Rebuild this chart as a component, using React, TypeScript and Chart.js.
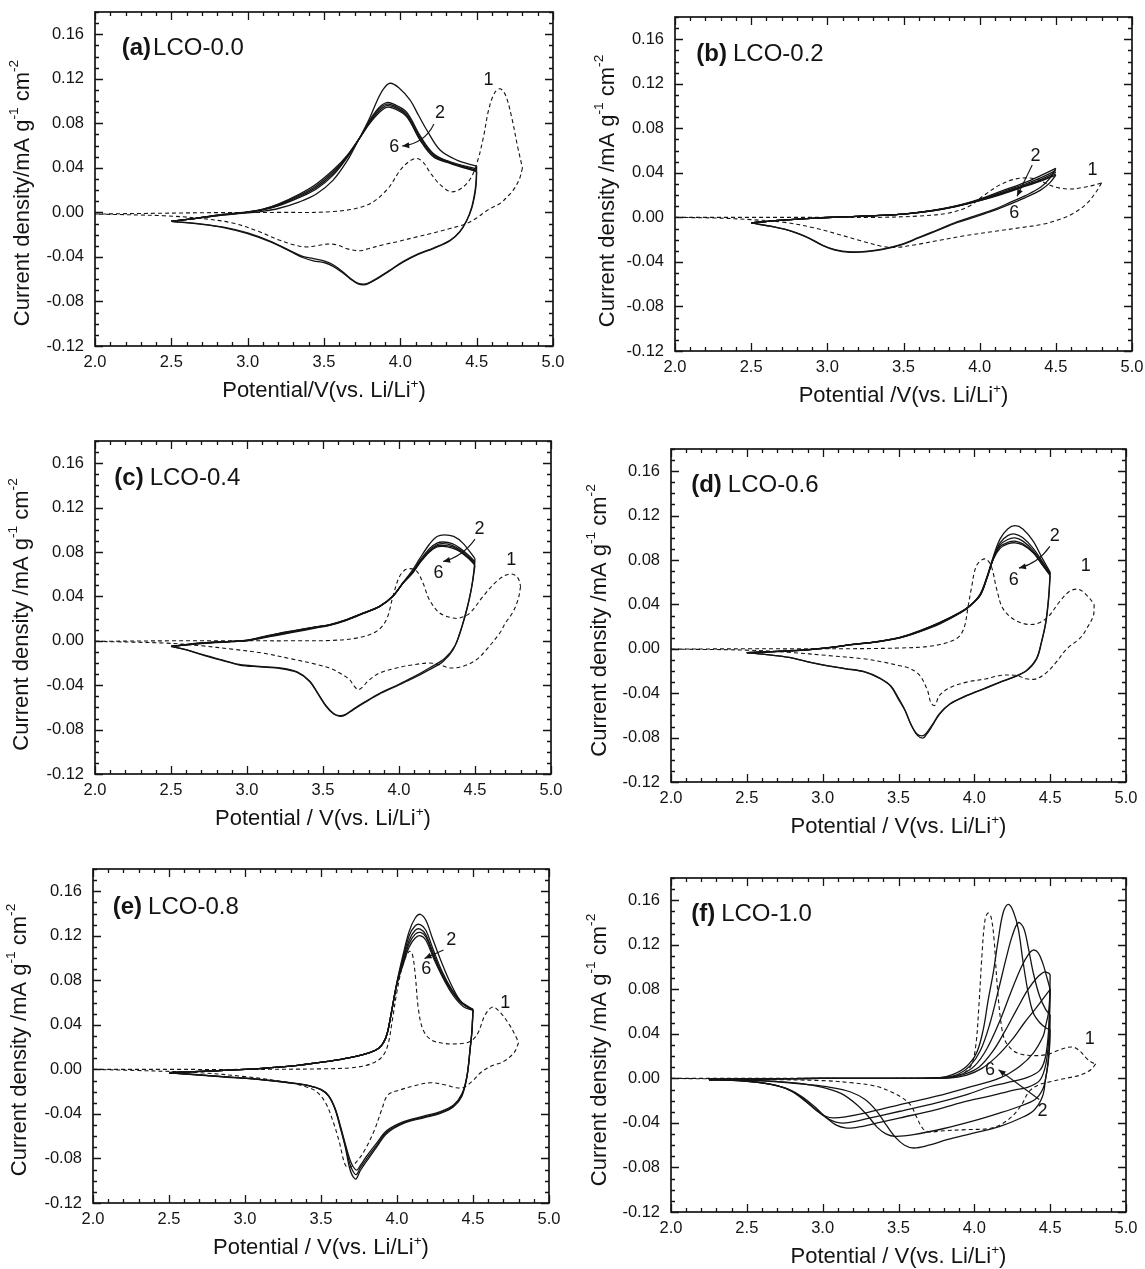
import React, { useEffect, useRef } from "react";
import { Chart, registerables } from "chart.js";
Chart.register(...registerables);

const FONT = '"Liberation Sans", Arial, Helvetica, sans-serif';
const INK = "#141414";

// ---------- axes ----------
const X_RANGE = [2.0, 5.0];
const Y_RANGE = [-0.12, 0.18];
const X_TICKS = [2.0, 2.5, 3.0, 3.5, 4.0, 4.5, 5.0];
const Y_TICKS = [-0.12, -0.08, -0.04, 0.0, 0.04, 0.08, 0.12, 0.16];

// ---------- (a) LCO-0.0 ----------
const a_c1_up = [[2.0,-0.0015],[2.4,-0.0008],[2.8,-0.0002],[3.2,0.0],[3.56,0.0008],[3.78,0.0065],[3.91,0.02],[4.0,0.038],[4.06,0.046],[4.107,0.0485],[4.15,0.045],[4.194,0.036],[4.26,0.025],[4.337,0.0185],[4.413,0.023],[4.47,0.033],[4.51,0.048],[4.545,0.068],[4.58,0.093],[4.62,0.108],[4.655,0.111],[4.69,0.105],[4.73,0.085],[4.77,0.058],[4.8,0.04]];
const a_c1_dn = [[4.8,0.04],[4.78,0.03],[4.74,0.02],[4.7,0.014],[4.653,0.008],[4.57,0.002],[4.5,-0.005],[4.435,-0.0099],[4.326,-0.0145],[4.2,-0.019],[4.107,-0.022],[3.99,-0.026],[3.888,-0.029],[3.78,-0.033],[3.73,-0.0345],[3.66,-0.033],[3.58,-0.029],[3.52,-0.0285],[3.45,-0.03],[3.38,-0.031],[3.3,-0.029],[3.2,-0.0245],[3.07,-0.017],[2.9,-0.0095],[2.7,-0.0055],[2.45,-0.003],[2.0,-0.0015]];
const a_an2 = [[2.5,-0.008],[2.65,-0.0055],[2.8,-0.003],[3.0,-0.0005],[3.1,0.001],[3.2,0.0035],[3.34,0.0095],[3.45,0.0165],[3.56,0.029],[3.65,0.046],[3.714,0.062],[3.76,0.074],[3.8,0.085],[3.85,0.101],[3.89,0.111],[3.932,0.116],[3.99,0.112],[4.063,0.101],[4.12,0.087],[4.173,0.074],[4.26,0.056],[4.37,0.047],[4.5,0.0415]];
const a_an3 = [[2.5,-0.008],[2.65,-0.0055],[2.8,-0.0028],[3.0,0.0],[3.1,0.0022],[3.2,0.0058],[3.34,0.0135],[3.45,0.021],[3.56,0.0335],[3.65,0.049],[3.746,0.0695],[3.8,0.083],[3.86,0.094],[3.91,0.0986],[3.96,0.097],[4.041,0.09],[4.129,0.069],[4.216,0.053],[4.326,0.0455],[4.5,0.039]];
const a_an4 = [[2.5,-0.008],[2.65,-0.0055],[2.8,-0.0027],[3.0,0.0002],[3.1,0.0025],[3.2,0.0064],[3.34,0.0145],[3.45,0.0225],[3.56,0.035],[3.65,0.0495],[3.746,0.0695],[3.8,0.082],[3.86,0.0925],[3.91,0.0972],[3.96,0.0957],[4.041,0.0885],[4.129,0.0675],[4.216,0.052],[4.326,0.045],[4.5,0.038]];
const a_an5 = [[2.5,-0.008],[2.65,-0.0055],[2.8,-0.0026],[3.0,0.0004],[3.1,0.0028],[3.2,0.007],[3.34,0.0155],[3.45,0.024],[3.56,0.0365],[3.65,0.05],[3.746,0.0695],[3.8,0.081],[3.86,0.091],[3.91,0.0958],[3.96,0.0945],[4.041,0.087],[4.129,0.066],[4.216,0.051],[4.326,0.0445],[4.5,0.037]];
const a_an6 = [[2.5,-0.008],[2.65,-0.0055],[2.8,-0.0025],[3.0,0.0005],[3.1,0.003],[3.2,0.0075],[3.34,0.0165],[3.45,0.0255],[3.56,0.038],[3.65,0.051],[3.746,0.0695],[3.8,0.08],[3.86,0.0895],[3.91,0.0944],[3.96,0.0932],[4.041,0.086],[4.129,0.065],[4.216,0.05],[4.326,0.044],[4.5,0.0365]];
const a_ca2 = [[4.5,0.0415],[4.497,0.03],[4.49,0.02],[4.468,0.005],[4.435,-0.007],[4.39,-0.017],[4.326,-0.025],[4.216,-0.032],[4.12,-0.037],[4.02,-0.044],[3.93,-0.052],[3.85,-0.059],[3.79,-0.0635],[3.76,-0.0645],[3.72,-0.0635],[3.67,-0.059],[3.62,-0.053],[3.56,-0.047],[3.5,-0.0435],[3.43,-0.0415],[3.36,-0.0395],[3.28,-0.0345],[3.15,-0.026],[3.0,-0.0185],[2.85,-0.0135],[2.7,-0.0105],[2.5,-0.008]];
const a_ca6 = [[4.5,0.0365],[4.497,0.026],[4.488,0.016],[4.466,0.003],[4.433,-0.008],[4.39,-0.0175],[4.326,-0.0255],[4.216,-0.0325],[4.12,-0.0375],[4.02,-0.0445],[3.93,-0.0525],[3.85,-0.0595],[3.79,-0.064],[3.76,-0.065],[3.72,-0.064],[3.67,-0.0595],[3.62,-0.054],[3.56,-0.0485],[3.5,-0.045],[3.43,-0.0435],[3.36,-0.0405],[3.28,-0.035],[3.15,-0.0265],[3.0,-0.019],[2.85,-0.0138],[2.7,-0.0107],[2.5,-0.008]];

// ---------- (b) LCO-0.2 ----------
const b_c1_up = [[2.0,0.0],[2.5,0.0],[3.0,0.0],[3.3,0.0],[3.6,0.0012],[3.8,0.004],[3.93,0.01],[4.03,0.02],[4.13,0.029],[4.22,0.034],[4.3,0.0355],[4.38,0.034],[4.45,0.0295],[4.52,0.0265],[4.6,0.0255],[4.68,0.027],[4.75,0.029],[4.8,0.031]];
const b_c1_dn = [[4.8,0.031],[4.76,0.022],[4.7,0.012],[4.62,0.004],[4.54,-0.001],[4.42,-0.006],[4.28,-0.009],[4.1,-0.0125],[3.9,-0.0165],[3.72,-0.021],[3.58,-0.0245],[3.45,-0.027],[3.36,-0.026],[3.22,-0.021],[3.08,-0.0155],[2.9,-0.009],[2.72,-0.0045],[2.5,-0.002],[2.25,-0.0005],[2.0,0.0]];
const b_an2 = [[2.5,-0.005],[2.7,-0.0025],[2.9,-0.0008],[3.1,0.0005],[3.3,0.0015],[3.5,0.003],[3.7,0.0065],[3.85,0.0105],[4.0,0.0165],[4.15,0.024],[4.3,0.0315],[4.4,0.0375],[4.5,0.044]];
const b_an3 = [[2.5,-0.005],[2.7,-0.0025],[2.9,-0.0008],[3.1,0.0005],[3.3,0.0015],[3.5,0.003],[3.7,0.0064],[3.85,0.0103],[4.0,0.016],[4.15,0.023],[4.3,0.03],[4.4,0.0355],[4.5,0.042]];
const b_an4 = [[2.5,-0.005],[2.7,-0.0025],[2.9,-0.0008],[3.1,0.0005],[3.3,0.0015],[3.5,0.003],[3.7,0.0063],[3.85,0.0101],[4.0,0.0155],[4.15,0.022],[4.3,0.029],[4.4,0.034],[4.5,0.0405]];
const b_an5 = [[2.5,-0.005],[2.7,-0.0025],[2.9,-0.0008],[3.1,0.0005],[3.3,0.0015],[3.5,0.003],[3.7,0.0062],[3.85,0.01],[4.0,0.015],[4.15,0.0215],[4.3,0.0285],[4.4,0.033],[4.5,0.039]];
const b_an6 = [[2.5,-0.005],[2.7,-0.0025],[2.9,-0.0008],[3.1,0.0005],[3.3,0.0015],[3.5,0.003],[3.7,0.0062],[3.85,0.0099],[4.0,0.015],[4.15,0.021],[4.3,0.028],[4.4,0.0325],[4.5,0.038]];
const b_ca2 = [[4.5,0.044],[4.46,0.035],[4.4,0.027],[4.3,0.0195],[4.2,0.0135],[4.1,0.0075],[3.96,0.001],[3.85,-0.004],[3.72,-0.0115],[3.6,-0.018],[3.48,-0.0245],[3.36,-0.0285],[3.25,-0.0305],[3.15,-0.031],[3.05,-0.029],[2.97,-0.025],[2.88,-0.0185],[2.77,-0.0125],[2.65,-0.0085],[2.5,-0.005]];
const b_ca6 = [[4.5,0.038],[4.46,0.031],[4.4,0.0245],[4.3,0.0178],[4.2,0.012],[4.1,0.0065],[3.96,0.0],[3.85,-0.0048],[3.72,-0.012],[3.6,-0.0185],[3.48,-0.025],[3.36,-0.029],[3.25,-0.031],[3.15,-0.0313],[3.05,-0.0293],[2.97,-0.0253],[2.88,-0.0188],[2.77,-0.0127],[2.65,-0.0086],[2.5,-0.005]];

// ---------- (c) LCO-0.4 ----------
const c_c1_up = [[2.0,-0.0005],[2.5,0.0],[3.0,0.0],[3.3,0.0],[3.544,0.0003],[3.72,0.0024],[3.85,0.0084],[3.917,0.019],[3.96,0.04],[4.0,0.057],[4.04,0.064],[4.07,0.065],[4.115,0.063],[4.158,0.052],[4.2,0.037],[4.268,0.025],[4.356,0.0205],[4.4,0.0205],[4.466,0.025],[4.553,0.04],[4.63,0.052],[4.7,0.059],[4.75,0.06],[4.785,0.056],[4.8,0.049]];
const c_c1_dn = [[4.8,0.049],[4.785,0.038],[4.75,0.026],[4.7,0.016],[4.663,0.007],[4.575,-0.008],[4.51,-0.017],[4.42,-0.023],[4.334,-0.0245],[4.268,-0.0216],[4.2,-0.02],[4.093,-0.0216],[3.983,-0.0245],[3.873,-0.029],[3.807,-0.035],[3.752,-0.0426],[3.73,-0.044],[3.7,-0.04],[3.675,-0.035],[3.61,-0.029],[3.544,-0.0246],[3.45,-0.021],[3.3,-0.0165],[3.1,-0.011],[2.9,-0.0075],[2.7,-0.0045],[2.45,-0.002],[2.0,-0.0005]];
const c_an2 = [[2.5,-0.005],[2.7,-0.0025],[2.9,-0.0008],[3.0,0.0],[3.1,0.0025],[3.2,0.005],[3.3,0.0075],[3.45,0.0115],[3.544,0.014],[3.654,0.0185],[3.763,0.0245],[3.873,0.031],[3.96,0.0405],[4.03,0.053],[4.09,0.064],[4.136,0.074],[4.2,0.087],[4.25,0.094],[4.3,0.0955],[4.36,0.094],[4.42,0.088],[4.5,0.074]];
const c_an3 = [[2.5,-0.005],[2.7,-0.0023],[2.9,-0.0007],[3.0,0.0002],[3.1,0.0028],[3.2,0.0055],[3.3,0.008],[3.45,0.012],[3.544,0.0142],[3.654,0.0187],[3.763,0.0247],[3.873,0.031],[3.96,0.0403],[4.028,0.0525],[4.09,0.0625],[4.136,0.072],[4.2,0.083],[4.25,0.088],[4.29,0.089],[4.35,0.0875],[4.4,0.0835],[4.466,0.076],[4.5,0.071]];
const c_an4 = [[2.5,-0.005],[2.7,-0.0022],[2.9,-0.0006],[3.0,0.0003],[3.1,0.003],[3.2,0.006],[3.3,0.0085],[3.45,0.0122],[3.544,0.0143],[3.654,0.0188],[3.763,0.0248],[3.873,0.031],[3.96,0.0402],[4.027,0.0522],[4.09,0.062],[4.136,0.071],[4.2,0.0815],[4.25,0.0865],[4.29,0.0875],[4.35,0.086],[4.4,0.082],[4.466,0.0745],[4.5,0.0695]];
const c_an5 = [[2.5,-0.005],[2.7,-0.0021],[2.9,-0.0005],[3.0,0.0004],[3.1,0.0033],[3.2,0.0063],[3.3,0.0088],[3.45,0.0124],[3.544,0.0144],[3.654,0.0189],[3.763,0.0249],[3.873,0.031],[3.96,0.0401],[4.027,0.0521],[4.09,0.0615],[4.136,0.0705],[4.2,0.0805],[4.25,0.0855],[4.29,0.086],[4.35,0.0848],[4.4,0.081],[4.466,0.0738],[4.5,0.0688]];
const c_an6 = [[2.5,-0.005],[2.7,-0.002],[2.9,-0.0005],[3.0,0.0005],[3.1,0.0035],[3.2,0.0065],[3.3,0.009],[3.45,0.0125],[3.544,0.0145],[3.654,0.019],[3.763,0.025],[3.873,0.031],[3.96,0.04],[4.027,0.052],[4.09,0.061],[4.136,0.07],[4.2,0.08],[4.25,0.0845],[4.29,0.085],[4.35,0.0835],[4.4,0.0805],[4.466,0.073],[4.5,0.068]];
const c_ca2 = [[4.5,0.074],[4.49,0.06],[4.475,0.046],[4.45,0.03],[4.415,0.013],[4.37,-0.004],[4.3,-0.016],[4.2,-0.0245],[4.09,-0.033],[3.98,-0.0405],[3.87,-0.0475],[3.77,-0.0555],[3.7,-0.0615],[3.645,-0.0665],[3.61,-0.0675],[3.57,-0.0655],[3.52,-0.0585],[3.47,-0.048],[3.41,-0.036],[3.33,-0.028],[3.22,-0.0245],[3.08,-0.023],[2.95,-0.0213],[2.83,-0.017],[2.71,-0.0125],[2.6,-0.008],[2.5,-0.005]];
const c_ca6 = [[4.5,0.068],[4.483,0.052],[4.461,0.037],[4.433,0.022],[4.4,0.007],[4.356,-0.008],[4.29,-0.0186],[4.2,-0.026],[4.09,-0.034],[3.98,-0.041],[3.87,-0.048],[3.77,-0.056],[3.7,-0.062],[3.645,-0.067],[3.61,-0.068],[3.57,-0.066],[3.52,-0.059],[3.47,-0.0485],[3.41,-0.0365],[3.33,-0.0285],[3.22,-0.025],[3.08,-0.0235],[2.95,-0.0218],[2.83,-0.0175],[2.71,-0.0128],[2.6,-0.0082],[2.5,-0.005]];

// ---------- (d) LCO-0.6 ----------
const d_c1_up = [[2.0,-0.0003],[2.5,0.0],[3.0,0.0],[3.5,0.0007],[3.73,0.0028],[3.88,0.009],[3.93,0.018],[3.96,0.039],[3.98,0.054],[4.015,0.075],[4.07,0.081],[4.11,0.075],[4.147,0.054],[4.19,0.036],[4.28,0.025],[4.39,0.022],[4.48,0.028],[4.56,0.042],[4.63,0.052],[4.69,0.0535],[4.75,0.047],[4.79,0.04]];
const d_c1_dn = [[4.79,0.04],[4.785,0.03],[4.74,0.018],[4.7,0.01],[4.61,0.0],[4.54,-0.012],[4.48,-0.021],[4.41,-0.027],[4.34,-0.027],[4.28,-0.024],[4.17,-0.024],[4.08,-0.027],[3.95,-0.03],[3.84,-0.035],[3.77,-0.042],[3.74,-0.051],[3.715,-0.049],[3.69,-0.037],[3.64,-0.024],[3.58,-0.018],[3.5,-0.015],[3.4,-0.012],[3.27,-0.009],[3.03,-0.006],[2.79,-0.0033],[2.5,-0.0012],[2.0,-0.0003]];
const d_an2 = [[2.5,-0.0035],[2.7,-0.0025],[2.9,-0.001],[3.05,0.001],[3.2,0.0038],[3.35,0.006],[3.51,0.0098],[3.642,0.0155],[3.773,0.0225],[3.905,0.032],[3.971,0.0385],[4.037,0.049],[4.081,0.064],[4.125,0.083],[4.17,0.099],[4.22,0.108],[4.268,0.111],[4.32,0.108],[4.388,0.097],[4.45,0.081],[4.5,0.069]];
const d_an3 = [[2.5,-0.0035],[2.7,-0.0024],[2.9,-0.0009],[3.05,0.0011],[3.2,0.0039],[3.35,0.0061],[3.51,0.01],[3.642,0.0158],[3.773,0.023],[3.905,0.0323],[3.971,0.0386],[4.037,0.0483],[4.081,0.0632],[4.125,0.0815],[4.17,0.0955],[4.22,0.102],[4.268,0.1034],[4.32,0.1],[4.388,0.0905],[4.454,0.0775],[4.5,0.068]];
const d_an4 = [[2.5,-0.0035],[2.7,-0.0024],[2.9,-0.0009],[3.05,0.0011],[3.2,0.0039],[3.35,0.0062],[3.51,0.0101],[3.642,0.016],[3.773,0.0233],[3.905,0.0325],[3.971,0.0387],[4.037,0.048],[4.081,0.063],[4.125,0.081],[4.17,0.0935],[4.22,0.0985],[4.268,0.0999],[4.32,0.097],[4.388,0.0885],[4.454,0.076],[4.5,0.0672]];
const d_an5 = [[2.5,-0.0035],[2.7,-0.0023],[2.9,-0.0008],[3.05,0.0012],[3.2,0.004],[3.35,0.0063],[3.51,0.0102],[3.642,0.0162],[3.773,0.0236],[3.905,0.0327],[3.971,0.0388],[4.037,0.0479],[4.081,0.0629],[4.125,0.0809],[4.17,0.092],[4.22,0.0958],[4.268,0.0969],[4.32,0.0945],[4.388,0.087],[4.454,0.075],[4.5,0.0665]];
const d_an6 = [[2.5,-0.0035],[2.7,-0.0023],[2.9,-0.0008],[3.05,0.0012],[3.2,0.004],[3.35,0.0063],[3.51,0.0103],[3.642,0.0163],[3.773,0.0238],[3.905,0.0328],[3.971,0.0388],[4.037,0.0478],[4.081,0.0628],[4.125,0.0809],[4.17,0.0905],[4.22,0.0945],[4.268,0.0955],[4.32,0.0935],[4.388,0.0865],[4.454,0.0745],[4.5,0.066]];
const d_ca2 = [[4.5,0.069],[4.49,0.047],[4.472,0.025],[4.443,0.0065],[4.41,-0.0088],[4.344,-0.0195],[4.257,-0.0255],[4.169,-0.03],[4.06,-0.036],[3.95,-0.042],[3.84,-0.0495],[3.77,-0.0585],[3.72,-0.069],[3.68,-0.0765],[3.655,-0.0785],[3.62,-0.0765],[3.58,-0.0675],[3.54,-0.0545],[3.5,-0.0445],[3.45,-0.0335],[3.38,-0.0265],[3.28,-0.0208],[3.15,-0.0178],[3.03,-0.0152],[2.9,-0.0116],[2.78,-0.0078],[2.65,-0.0055],[2.5,-0.0035]];
const d_ca6 = [[4.5,0.066],[4.49,0.045],[4.472,0.024],[4.443,0.0058],[4.41,-0.0093],[4.344,-0.0198],[4.257,-0.0258],[4.169,-0.0303],[4.06,-0.0363],[3.95,-0.0423],[3.84,-0.0498],[3.77,-0.059],[3.72,-0.07],[3.68,-0.078],[3.66,-0.0805],[3.625,-0.078],[3.585,-0.069],[3.545,-0.056],[3.5,-0.0455],[3.45,-0.034],[3.38,-0.027],[3.28,-0.021],[3.15,-0.018],[3.03,-0.0153],[2.9,-0.0117],[2.78,-0.0078],[2.65,-0.0055],[2.5,-0.0035]];

// ---------- (e) LCO-0.8 ----------
const e_c1_up = [[2.0,0.0],[2.5,0.0],[3.0,0.0],[3.5,0.0005],[3.7,0.0015],[3.82,0.0045],[3.9,0.011],[3.94,0.022],[3.97,0.045],[4.0,0.07],[4.04,0.095],[4.08,0.106],[4.1,0.104],[4.12,0.085],[4.14,0.055],[4.17,0.036],[4.22,0.027],[4.3,0.0235],[4.4,0.023],[4.48,0.025],[4.53,0.032],[4.58,0.049],[4.63,0.056],[4.68,0.051],[4.74,0.04],[4.78,0.03],[4.8,0.024]];
const e_c1_dn = [[4.8,0.024],[4.77,0.015],[4.7,0.007],[4.62,0.003],[4.55,-0.003],[4.5,-0.01],[4.44,-0.016],[4.39,-0.0165],[4.32,-0.014],[4.22,-0.012],[4.12,-0.0145],[4.02,-0.0185],[3.94,-0.023],[3.9,-0.036],[3.85,-0.055],[3.79,-0.072],[3.74,-0.082],[3.69,-0.088],[3.66,-0.086],[3.62,-0.065],[3.58,-0.047],[3.53,-0.03],[3.47,-0.02],[3.4,-0.0155],[3.25,-0.011],[3.0,-0.0065],[2.7,-0.003],[2.3,-0.001],[2.0,0.0]];
const e_an2 = [[2.5,-0.003],[2.75,-0.0015],[3.0,0.0],[3.3,0.003],[3.56,0.0075],[3.69,0.0105],[3.82,0.015],[3.88,0.019],[3.911,0.024],[3.935,0.032],[3.955,0.045],[3.999,0.078],[4.04,0.103],[4.08,0.124],[4.12,0.136],[4.153,0.1393],[4.19,0.134],[4.23,0.119],[4.285,0.099],[4.34,0.081],[4.4,0.065],[4.45,0.057],[4.5,0.054]];
const e_an3 = [[2.5,-0.003],[2.75,-0.0015],[3.0,0.0],[3.3,0.003],[3.56,0.0075],[3.69,0.0105],[3.82,0.015],[3.88,0.019],[3.911,0.024],[3.935,0.032],[3.955,0.045],[3.999,0.0775],[4.04,0.1],[4.08,0.12],[4.12,0.129],[4.153,0.13],[4.19,0.125],[4.24,0.107],[4.3,0.087],[4.36,0.072],[4.42,0.061],[4.5,0.0538]];
const e_an4 = [[2.5,-0.003],[2.75,-0.0015],[3.0,0.0],[3.3,0.003],[3.56,0.0075],[3.69,0.0105],[3.82,0.015],[3.88,0.019],[3.911,0.024],[3.935,0.032],[3.955,0.045],[3.999,0.077],[4.04,0.098],[4.08,0.116],[4.12,0.125],[4.153,0.126],[4.19,0.121],[4.24,0.104],[4.3,0.085],[4.36,0.071],[4.42,0.0605],[4.5,0.0535]];
const e_an5 = [[2.5,-0.003],[2.75,-0.0015],[3.0,0.0],[3.3,0.003],[3.56,0.0075],[3.69,0.0105],[3.82,0.015],[3.88,0.019],[3.911,0.024],[3.935,0.032],[3.955,0.045],[3.999,0.0765],[4.04,0.096],[4.08,0.113],[4.12,0.1215],[4.155,0.123],[4.19,0.119],[4.24,0.102],[4.3,0.084],[4.36,0.0705],[4.42,0.06],[4.5,0.0532]];
const e_an6 = [[2.5,-0.003],[2.75,-0.0015],[3.0,0.0],[3.3,0.003],[3.56,0.0075],[3.69,0.0105],[3.82,0.015],[3.88,0.019],[3.911,0.024],[3.935,0.032],[3.955,0.045],[3.999,0.076],[4.04,0.094],[4.08,0.11],[4.12,0.118],[4.155,0.12],[4.19,0.116],[4.24,0.1],[4.307,0.081],[4.372,0.066],[4.44,0.056],[4.5,0.053]];
const e_ca2 = [[4.5,0.054],[4.493,0.035],[4.482,0.02],[4.46,-0.006],[4.427,-0.022],[4.372,-0.032],[4.285,-0.038],[4.175,-0.042],[4.043,-0.047],[3.933,-0.055],[3.867,-0.066],[3.8,-0.078],[3.76,-0.086],[3.735,-0.0905],[3.71,-0.087],[3.69,-0.081],[3.66,-0.067],[3.626,-0.05],[3.593,-0.035],[3.55,-0.0235],[3.5,-0.018],[3.42,-0.0145],[3.3,-0.012],[3.1,-0.009],[2.85,-0.0065],[2.5,-0.003]];
const e_ca4 = [[4.5,0.0535],[4.493,0.0345],[4.482,0.0195],[4.46,-0.0065],[4.427,-0.023],[4.372,-0.0328],[4.285,-0.0388],[4.175,-0.0428],[4.043,-0.0478],[3.933,-0.0563],[3.867,-0.068],[3.8,-0.0803],[3.758,-0.0885],[3.732,-0.0945],[3.708,-0.091],[3.688,-0.084],[3.66,-0.0685],[3.626,-0.051],[3.593,-0.0355],[3.55,-0.0238],[3.5,-0.0182],[3.42,-0.0146],[3.3,-0.0121],[3.1,-0.0091],[2.85,-0.0065],[2.5,-0.003]];
const e_ca6 = [[4.5,0.053],[4.493,0.034],[4.482,0.019],[4.46,-0.007],[4.427,-0.024],[4.372,-0.0335],[4.285,-0.0395],[4.175,-0.0435],[4.043,-0.0485],[3.933,-0.0575],[3.867,-0.0695],[3.8,-0.0825],[3.758,-0.091],[3.73,-0.0985],[3.705,-0.095],[3.685,-0.087],[3.66,-0.07],[3.626,-0.052],[3.593,-0.036],[3.55,-0.024],[3.5,-0.0183],[3.42,-0.0147],[3.3,-0.0122],[3.1,-0.0092],[2.85,-0.0066],[2.5,-0.003]];

// ---------- (f) LCO-1.0 ----------
const f_c1_up = [[2.0,0.0],[2.5,0.0],[3.0,0.0],[3.5,0.0],[3.8,0.0008],[3.92,0.004],[3.98,0.012],[4.01,0.03],[4.03,0.065],[4.05,0.11],[4.07,0.142],[4.09,0.1485],[4.11,0.145],[4.13,0.125],[4.15,0.085],[4.18,0.046],[4.21,0.032],[4.28,0.023],[4.39,0.0205],[4.48,0.0215],[4.55,0.025],[4.62,0.028],[4.66,0.0278],[4.7,0.024],[4.74,0.018],[4.78,0.014],[4.8,0.013]];
const f_c1_dn = [[4.8,0.013],[4.77,0.008],[4.7,0.003],[4.6,0.0],[4.5,-0.003],[4.42,-0.006],[4.36,-0.012],[4.31,-0.024],[4.25,-0.034],[4.18,-0.041],[4.1,-0.045],[3.95,-0.046],[3.8,-0.047],[3.7,-0.048],[3.66,-0.045],[3.62,-0.035],[3.58,-0.024],[3.52,-0.017],[3.45,-0.012],[3.35,-0.007],[3.2,-0.004],[3.0,-0.002],[2.6,-0.001],[2.0,0.0]];
const f_an2 = [[2.25,-0.001],[2.6,-0.0005],[3.0,0.0],[3.5,0.0],[3.77,0.0006],[3.86,0.0036],[3.95,0.011],[4.015,0.023],[4.059,0.044],[4.092,0.071],[4.125,0.095],[4.158,0.125],[4.19,0.1488],[4.224,0.1563],[4.257,0.15],[4.29,0.134],[4.322,0.104],[4.355,0.077],[4.388,0.059],[4.432,0.05],[4.476,0.045],[4.5,0.044]];
const f_an3 = [[2.25,-0.001],[2.6,-0.0005],[3.0,0.0],[3.5,0.0],[3.79,0.0006],[3.89,0.0035],[3.97,0.011],[4.04,0.025],[4.1,0.048],[4.16,0.08],[4.21,0.108],[4.25,0.128],[4.29,0.1399],[4.325,0.135],[4.355,0.118],[4.39,0.094],[4.43,0.074],[4.47,0.062],[4.5,0.057]];
const f_an4 = [[2.25,-0.001],[2.6,-0.0005],[3.0,0.0],[3.5,0.0],[3.81,0.0006],[3.91,0.0035],[4.0,0.011],[4.08,0.026],[4.16,0.049],[4.24,0.077],[4.31,0.1],[4.36,0.112],[4.388,0.1153],[4.42,0.113],[4.45,0.104],[4.48,0.09],[4.5,0.08]];
const f_an5 = [[2.25,-0.001],[2.6,-0.0005],[3.0,0.0],[3.5,0.0],[3.83,0.0006],[3.93,0.0035],[4.03,0.01],[4.12,0.024],[4.2,0.042],[4.28,0.062],[4.35,0.079],[4.41,0.09],[4.46,0.0955],[4.49,0.0945],[4.5,0.093]];
const f_an6 = [[2.25,-0.001],[2.6,-0.0005],[3.0,0.0],[3.5,0.0],[3.85,0.0006],[3.95,0.003],[4.05,0.009],[4.15,0.02],[4.25,0.035],[4.33,0.05],[4.4,0.062],[4.45,0.071],[4.5,0.08]];
const f_ca2 = [[4.5,0.044],[4.497,0.03],[4.487,0.014],[4.47,0.0],[4.45,-0.016],[4.39,-0.029],[4.3,-0.036],[4.17,-0.043],[4.0,-0.049],[3.82,-0.055],[3.7,-0.06],[3.6,-0.0625],[3.54,-0.06],[3.48,-0.053],[3.42,-0.042],[3.36,-0.03],[3.28,-0.019],[3.18,-0.012],[3.05,-0.008],[2.9,-0.0055],[2.7,-0.003],[2.45,-0.0015],[2.25,-0.001]];
const f_ca3 = [[4.5,0.057],[4.497,0.038],[4.488,0.018],[4.473,0.002],[4.45,-0.01],[4.4,-0.019],[4.3,-0.025],[4.17,-0.031],[4.0,-0.038],[3.8,-0.045],[3.6,-0.0505],[3.48,-0.052],[3.42,-0.05],[3.36,-0.044],[3.3,-0.034],[3.22,-0.023],[3.12,-0.0135],[3.0,-0.008],[2.85,-0.0045],[2.6,-0.002],[2.25,-0.001]];
const f_ca4 = [[4.5,0.08],[4.495,0.05],[4.485,0.026],[4.465,0.009],[4.43,-0.002],[4.35,-0.008],[4.26,-0.0105],[4.1,-0.016],[3.95,-0.0205],[3.75,-0.028],[3.51,-0.0355],[3.3,-0.042],[3.2,-0.0445],[3.15,-0.0445],[3.09,-0.042],[3.03,-0.036],[2.96,-0.027],[2.88,-0.018],[2.78,-0.01],[2.62,-0.0045],[2.4,-0.0018],[2.25,-0.001]];
const f_ca5 = [[4.5,0.093],[4.495,0.06],[4.485,0.035],[4.465,0.017],[4.43,0.007],[4.35,0.001],[4.21,-0.004],[4.1,-0.0075],[3.95,-0.0145],[3.75,-0.022],[3.51,-0.0295],[3.3,-0.036],[3.18,-0.0395],[3.114,-0.04],[3.06,-0.038],[3.0,-0.033],[2.93,-0.025],[2.85,-0.016],[2.75,-0.0085],[2.6,-0.004],[2.4,-0.0016],[2.25,-0.001]];
const f_ca6 = [[4.5,0.08],[4.49,0.06],[4.47,0.047],[4.454,0.038],[4.39,0.023],[4.3,0.011],[4.17,0.0005],[3.95,-0.0085],[3.75,-0.016],[3.51,-0.0235],[3.3,-0.0305],[3.15,-0.0345],[3.07,-0.0355],[3.02,-0.034],[2.96,-0.029],[2.89,-0.021],[2.8,-0.012],[2.7,-0.0065],[2.55,-0.003],[2.4,-0.0015],[2.25,-0.001]];

// ---------- panel descriptions ----------
type Curve = { pts: number[][]; dash?: boolean };
type Note = { t: string; x: number; y: number };
type Arrow = { from: number[]; ctrl?: number[]; to: number[] };
type Panel = {
  tag: string; name: string; gap: number; lab: number[];
  rect: number[]; yDx: number; yDy: number;
  xTitle: string; yTitle: string;
  curves: Curve[]; notes: Note[]; arrow: Arrow;
};

const solid = (...arrs: number[][][]): Curve[] => arrs.map((pts) => ({ pts }));
const dashed = (...arrs: number[][][]): Curve[] => arrs.map((pts) => ({ pts, dash: true }));

const PANELS: Panel[] = [
  {
    tag: "(a)", name: "LCO-0.0", gap: 2, lab: [2.175, 0.1415], rect: [95, 12, 553, 346], yDx: -72, yDy: 14,
    xTitle: "Potential/V(vs. Li/Li", yTitle: "Current density/mA g",
    curves: [...dashed(a_c1_up, a_c1_dn), ...solid(a_an2, a_an3, a_an4, a_an5, a_an6, a_ca2, a_ca6)],
    notes: [{ t: "1", x: 4.577, y: 0.119 }, { t: "2", x: 4.26, y: 0.0896 }, { t: "6", x: 3.96, y: 0.0585 }],
    arrow: { from: [4.22, 0.0794], ctrl: [4.16, 0.062], to: [4.012, 0.0596] },
  },
  {
    tag: "(b)", name: "LCO-0.2", gap: 6, lab: [2.14, 0.1406], rect: [675, 17, 1132, 351], yDx: -67, yDy: 7,
    xTitle: "Potential /V(vs. Li/Li", yTitle: "Current density /mA g",
    curves: [...dashed(b_c1_up, b_c1_dn), ...solid(b_an2, b_an3, b_an4, b_an5, b_an6, b_ca2, b_ca6)],
    notes: [{ t: "2", x: 4.367, y: 0.0547 }, { t: "1", x: 4.74, y: 0.0428 }, { t: "6", x: 4.227, y: 0.0039 }],
    arrow: { from: [4.345, 0.047], to: [4.245, 0.019] },
  },
  {
    tag: "(c)", name: "LCO-0.4", gap: 6, lab: [2.127, 0.14], rect: [95, 441, 551, 774], yDx: -73, yDy: 7,
    xTitle: "Potential / V(vs. Li/Li", yTitle: "Current density /mA g",
    curves: [...dashed(c_c1_up, c_c1_dn), ...solid(c_an2, c_an3, c_an4, c_an5, c_an6, c_ca2, c_ca6)],
    notes: [{ t: "2", x: 4.53, y: 0.1006 }, { t: "6", x: 4.26, y: 0.061 }, { t: "1", x: 4.739, y: 0.073 }],
    arrow: { from: [4.5, 0.0916], ctrl: [4.42, 0.076], to: [4.29, 0.0714] },
  },
  {
    tag: "(d)", name: "LCO-0.6", gap: 6, lab: [2.133, 0.1415], rect: [671, 449, 1126, 782], yDx: -71, yDy: 5,
    xTitle: "Potential / V(vs. Li/Li", yTitle: "Current density /mA g",
    curves: [...dashed(d_c1_up, d_c1_dn), ...solid(d_an2, d_an3, d_an4, d_an5, d_an6, d_ca2, d_ca6)],
    notes: [{ t: "2", x: 4.53, y: 0.1012 }, { t: "6", x: 4.26, y: 0.062 }, { t: "1", x: 4.734, y: 0.0748 }],
    arrow: { from: [4.498, 0.0923], ctrl: [4.42, 0.077], to: [4.294, 0.0727] },
  },
  {
    tag: "(e)", name: "LCO-0.8", gap: 6, lab: [2.13, 0.14], rect: [93, 869, 549, 1203], yDx: -73, yDy: 4,
    xTitle: "Potential / V(vs. Li/Li", yTitle: "Current density /mA g",
    curves: [...dashed(e_c1_up, e_c1_dn), ...solid(e_an2, e_an3, e_an4, e_an5, e_an6, e_ca2, e_ca4, e_ca6)],
    notes: [{ t: "2", x: 4.357, y: 0.1162 }, { t: "6", x: 4.192, y: 0.0898 }, { t: "1", x: 4.713, y: 0.0599 }],
    arrow: { from: [4.306, 0.1072], to: [4.181, 0.0997] },
  },
  {
    tag: "(f)", name: "LCO-1.0", gap: 6, lab: [2.133, 0.141], rect: [671, 878, 1126, 1212], yDx: -71, yDy: 5,
    xTitle: "Potential / V(vs. Li/Li", yTitle: "Current density /mA g",
    curves: [...dashed(f_c1_up, f_c1_dn), ...solid(f_an2, f_an3, f_an4, f_an5, f_an6, f_ca2, f_ca3, f_ca4, f_ca5, f_ca6)],
    notes: [{ t: "1", x: 4.761, y: 0.035 }, { t: "6", x: 4.103, y: 0.0075 }, { t: "2", x: 4.449, y: -0.0295 }],
    arrow: { from: [4.428, -0.0189], to: [4.16, 0.0078] },
  },
];

const PADL = 95, PADT = 12, PADR = 13, PADB = 60;
const TICK_FONT = 16.5, TITLE_FONT = 22, LABEL_FONT = 24, NOTE_FONT = 18;

type Seg = { t: string; sup?: boolean };
function drawRich(ctx: CanvasRenderingContext2D, segs: Seg[], size: number) {
  const sup = size * 0.62;
  const widths = segs.map((s) => {
    ctx.font = `${s.sup ? sup : size}px ${FONT}`;
    return ctx.measureText(s.t).width;
  });
  const total = widths.reduce((a, b) => a + b, 0);
  let x = -total / 2;
  segs.forEach((s, i) => {
    ctx.font = `${s.sup ? sup : size}px ${FONT}`;
    ctx.fillText(s.t, x, s.sup ? -size * 0.42 : 0);
    x += widths[i];
  });
}

function makeDecor(p: Panel) {
  return {
    id: "decor",
    afterDraw(chart: any) {
      const ctx: CanvasRenderingContext2D = chart.ctx;
      const a = chart.chartArea;
      const xs = chart.scales.x, ys = chart.scales.y;
      const X = (v: number) => xs.getPixelForValue(v);
      const Y = (v: number) => ys.getPixelForValue(v);
      ctx.save();
      ctx.strokeStyle = INK;
      ctx.fillStyle = INK;
      // ticks (inward, on all four sides)
      ctx.lineWidth = 1.3;
      ctx.beginPath();
      for (let i = 0; i <= 30; i++) {
        const px = Math.round(X(X_RANGE[0] + i * 0.1)) + 0.5;
        const len = i % 5 === 0 ? 8 : 4;
        ctx.moveTo(px, a.bottom); ctx.lineTo(px, a.bottom - len);
        ctx.moveTo(px, a.top); ctx.lineTo(px, a.top + len);
      }
      for (let i = 0; i <= 30; i++) {
        const py = Math.round(Y(Y_RANGE[0] + i * 0.01)) + 0.5;
        const len = i % 4 === 0 ? 8 : 4;
        ctx.moveTo(a.left, py); ctx.lineTo(a.left + len, py);
        ctx.moveTo(a.right, py); ctx.lineTo(a.right - len, py);
      }
      ctx.stroke();
      // frame
      ctx.lineWidth = 1.7;
      ctx.strokeRect(a.left, a.top, a.right - a.left, a.bottom - a.top);

      // x title
      ctx.textAlign = "left";
      ctx.textBaseline = "alphabetic";
      ctx.save();
      ctx.translate((a.left + a.right) / 2, a.bottom + 51);
      drawRich(ctx, [{ t: p.xTitle }, { t: "+", sup: true }, { t: ")" }], TITLE_FONT);
      ctx.restore();
      // y title
      ctx.save();
      ctx.translate(a.left + p.yDx, (a.top + a.bottom) / 2 + p.yDy);
      ctx.rotate(-Math.PI / 2);
      ctx.textBaseline = "middle";
      drawRich(ctx, [{ t: p.yTitle }, { t: "-1", sup: true }, { t: " cm" }, { t: "-2", sup: true }], TITLE_FONT);
      ctx.restore();

      // panel label
      ctx.textBaseline = "alphabetic";
      ctx.textAlign = "left";
      const lx = X(p.lab[0]), ly = Y(p.lab[1]);
      ctx.font = `bold ${LABEL_FONT}px ${FONT}`;
      ctx.fillText(p.tag, lx, ly);
      const tw = ctx.measureText(p.tag).width;
      ctx.font = `${LABEL_FONT}px ${FONT}`;
      ctx.fillText(p.name, lx + tw + p.gap, ly);

      // cycle numbers
      ctx.font = `${NOTE_FONT}px ${FONT}`;
      ctx.textAlign = "center";
      ctx.textBaseline = "middle";
      p.notes.forEach((n) => ctx.fillText(n.t, X(n.x), Y(n.y)));

      // arrow
      const ar = p.arrow;
      const fx = X(ar.from[0]), fy = Y(ar.from[1]);
      const tx = X(ar.to[0]), ty = Y(ar.to[1]);
      ctx.lineWidth = 1.1;
      ctx.beginPath();
      ctx.moveTo(fx, fy);
      let dx: number, dy: number;
      if (ar.ctrl) {
        const cx = X(ar.ctrl[0]), cy = Y(ar.ctrl[1]);
        ctx.quadraticCurveTo(cx, cy, tx, ty);
        dx = tx - cx; dy = ty - cy;
      } else {
        ctx.lineTo(tx, ty);
        dx = tx - fx; dy = ty - fy;
      }
      ctx.stroke();
      const d = Math.hypot(dx, dy) || 1;
      const ux = dx / d, uy = dy / d;
      const hl = 7, hw = 3;
      ctx.beginPath();
      ctx.moveTo(tx, ty);
      ctx.lineTo(tx - ux * hl - uy * hw, ty - uy * hl + ux * hw);
      ctx.lineTo(tx - ux * hl + uy * hw, ty - uy * hl - ux * hw);
      ctx.closePath();
      ctx.fill();
      ctx.restore();
    },
  };
}

function PanelChart({ p }: { p: Panel }) {
  const ref = useRef<HTMLCanvasElement | null>(null);
  const [L, T, R, B] = p.rect;
  const left = L - PADL, top = T - PADT;
  const w = R - L + PADL + PADR, h = B - T + PADT + PADB;
  useEffect(() => {
    if (!ref.current) return;
    const zeroPad = (s: any) => { s.paddingLeft = 0; s.paddingRight = 0; s.paddingTop = 0; s.paddingBottom = 0; };
    const chart = new Chart(ref.current, {
      type: "scatter",
      data: {
        datasets: p.curves.map((c) => ({
          data: c.pts.map(([x, y]) => ({ x, y })),
          showLine: true,
          borderColor: INK,
          borderWidth: c.dash ? 1.1 : 1.3,
          borderDash: c.dash ? [4, 3] : [],
          pointRadius: 0,
          pointHoverRadius: 0,
          tension: 0.35,
          fill: false,
        })),
      },
      options: {
        responsive: false,
        maintainAspectRatio: false,
        animation: false,
        devicePixelRatio: 1,
        events: [],
        layout: { padding: { left: 0, top: PADT, right: PADR, bottom: 0 } },
        plugins: { legend: { display: false }, tooltip: { enabled: false } },
        scales: {
          x: {
            type: "linear",
            min: X_RANGE[0],
            max: X_RANGE[1],
            afterBuildTicks: (s: any) => { s.ticks = X_TICKS.map((v) => ({ value: v })); },
            afterFit: (s: any) => { s.height = PADB; zeroPad(s); },
            grid: { display: false, drawTicks: false },
            border: { display: false },
            ticks: {
              font: { family: FONT, size: TICK_FONT },
              color: INK,
              padding: 7,
              maxRotation: 0,
              autoSkip: false,
              callback: (v: any) => Number(v).toFixed(1),
            },
          },
          y: {
            type: "linear",
            min: Y_RANGE[0],
            max: Y_RANGE[1],
            afterBuildTicks: (s: any) => { s.ticks = Y_TICKS.map((v) => ({ value: v })); },
            afterFit: (s: any) => { s.width = PADL; zeroPad(s); },
            grid: { display: false, drawTicks: false },
            border: { display: false },
            ticks: {
              font: { family: FONT, size: TICK_FONT },
              color: INK,
              padding: 11,
              autoSkip: false,
              callback: (v: any) => Number(v).toFixed(2),
            },
          },
        },
      } as any,
      plugins: [makeDecor(p)],
    });
    return () => chart.destroy();
  }, []);
  return (
    <canvas
      ref={ref}
      width={w}
      height={h}
      style={{ position: "absolute", left, top, width: w, height: h }}
    />
  );
}

export default function App() {
  return (
    <div
      style={{
        position: "absolute",
        left: 0,
        top: 0,
        width: 1145,
        height: 1269,
        background: "#ffffff",
        overflow: "hidden",
      }}
    >
      {PANELS.map((p) => (
        <PanelChart key={p.tag} p={p} />
      ))}
    </div>
  );
}
